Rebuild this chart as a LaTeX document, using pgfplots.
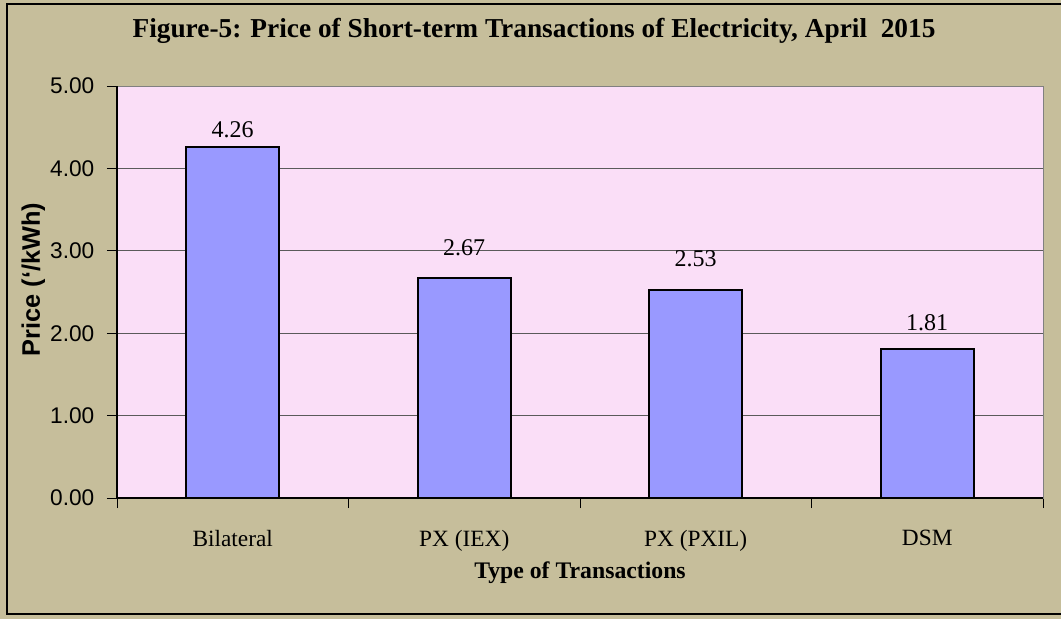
\documentclass[border=0pt]{standalone}
\usepackage{pgfplots}
\pgfplotsset{compat=1.18}
\usepackage{fontspec}
\setmainfont{Liberation Serif}
\setsansfont{Liberation Sans}
\definecolor{tanbg}{HTML}{C6BE9B}
\definecolor{pinkbg}{HTML}{FADEF7}
\definecolor{barblue}{HTML}{9999FF}
\definecolor{gridgray}{HTML}{5A5A5A}
\begin{document}
\begin{tikzpicture}[x=0.75pt,y=0.75pt]
% 1px = 0.75pt, origin at the lower left corner of the plot area
\fill[tanbg] (-117,-121) rectangle (944,498);
\draw[black, line width=1.5pt] (944,494) -- (-110,494) -- (-110,-116) -- (944,-116);
\begin{axis}[
    at={(0,0)}, anchor=south west,
    scale only axis,
    width=694.5pt, height=309pt,
    axis background/.style={fill=pinkbg},
    axis line style={draw=gray},
    xmin=-0.5, xmax=3.5,
    ymin=0, ymax=5,
    xtick={-0.5,0.5,1.5,2.5,3.5},
    x tick label as interval,
    xticklabels={Bilateral, PX (IEX), PX (PXIL), DSM},
    ytick={0,1,2,3,4,5},
    xtick pos=bottom, ytick pos=left,
    yticklabel style={xshift=-6pt, font=\fontsize{17}{19}\selectfont,
      /pgf/number format/fixed, /pgf/number format/fixed zerofill,
      /pgf/number format/precision=2, /pgf/number format/assume math mode=true},
    yticklabel={\sffamily\pgfmathprintnumber{\tick}},
    tick align=outside,
    major tick length=7.5pt,
    tick style={black, line width=0.6pt},
    ymajorgrids=true,
    grid style={gridgray, line width=0.6pt},
    xticklabel style={yshift=-13pt, font=\fontsize{17.5}{19}\selectfont},
    xlabel={\bfseries Type of Transactions},
    xlabel style={font=\fontsize{17.8}{20}\selectfont, yshift=-1pt},
    ylabel={\sffamily\bfseries Price (`/kWh)},
    ylabel style={font=\fontsize{19}{21}\selectfont, at={(ticklabel cs:0.53)}, yshift=-3pt},
    title={\bfseries Figure-5: Price of Short-term Transactions of Electricity, April\ \ 2015},
    title style={font=\fontsize{20.5}{23}\selectfont, yshift=22pt, xshift=-34.5pt},
    clip=false,
  ]
  \addplot[ybar, bar width=0.4, fill=barblue, draw=black, line width=1.5pt,
    nodes near coords,
    visualization depends on={\thisrow{off} \as \off},
    nodes near coords style={font=\fontsize{18}{20}\selectfont, black, anchor=center, yshift=\off pt,
      /pgf/number format/fixed, /pgf/number format/fixed zerofill, /pgf/number format/precision=2,
      /pgf/number format/assume math mode=true},
  ] table {
    x y off
    0 4.26 12.75
    1 2.67 23
    2 2.53 23
    3 1.81 20
  };
  \draw[black, line width=1pt] (rel axis cs:0,1) -- (rel axis cs:0,0) -- (rel axis cs:1,0);
\end{axis}
\pgfresetboundingbox
\useasboundingbox (-117,-121) rectangle (944,498);
\end{tikzpicture}
\end{document}
